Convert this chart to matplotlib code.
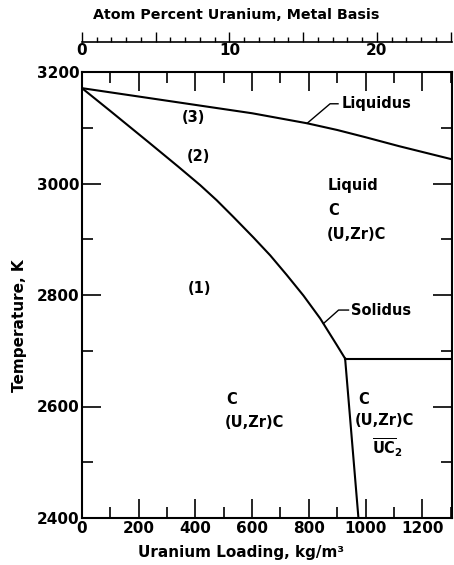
import matplotlib
matplotlib.use("Agg")
import matplotlib.pyplot as plt
from matplotlib.ticker import MultipleLocator, FuncFormatter

plt.rcParams["font.family"] = ["DejaVu Sans"]
plt.rcParams["font.weight"] = "bold"
plt.rcParams["mathtext.default"] = "bf"

# phase boundaries, uranium loading (kg/m3) vs temperature (K)
liquidus_kg = [0, 200, 413, 600, 794, 900, 1000, 1118, 1300]
liquidus_T = [3171, 3156, 3140, 3126, 3108, 3096, 3083, 3067, 3044]

solidus_kg = [0, 100, 235, 340, 417, 475, 534, 605, 664, 722, 781, 840,
              899, 928]
solidus_T = [3171, 3130, 3074, 3030, 2997, 2970, 2940, 2903, 2871, 2836,
             2799, 2758, 2710, 2686]

uc2_kg = [928, 975]
uc2_T = [2686, 2400]

eutectic_kg = [928, 1305]
eutectic_T = [2686, 2686]

x_ticks = [0, 200, 400, 600, 800, 1000, 1200]
y_ticks = [2400, 2600, 2800, 3000, 3200]

LW = 1.5
FS = 10.5

fig = plt.figure(figsize=(4.54, 5.65), dpi=100)
ax = fig.add_axes([82 / 454, 1 - 518 / 565, 370 / 454, 446 / 565])

ax.plot(liquidus_kg, liquidus_T, color="black", lw=LW)
ax.plot(solidus_kg, solidus_T, color="black", lw=LW)
ax.plot(uc2_kg, uc2_T, color="black", lw=LW)
ax.plot(eutectic_kg, eutectic_T, color="black", lw=LW)

ax.set_xlim(0, 1305)
ax.set_ylim(2400, 3200)
ax.set_xticks(x_ticks)
ax.set_yticks(y_ticks)
ax.xaxis.set_minor_locator(MultipleLocator(100))
ax.yaxis.set_minor_locator(MultipleLocator(100))
ax.tick_params(which="both", direction="in", top=True, right=True,
               width=1.2, labelsize=11, pad=2)
ax.tick_params(which="major", length=14)
ax.tick_params(which="minor", length=8)
for s in ax.spines.values():
    s.set_linewidth(LW)

fig.text(20 / 454, 1 - 326 / 565, "Temperature, K", rotation=90,
         ha="center", va="center", fontsize=11)
fig.text(241 / 454, 1 - 553 / 565, "Uranium Loading, kg/m³",
         ha="center", va="center", fontsize=11)

# leaders to the curve names
ax.plot([794, 875, 903], [3108, 3143, 3143], color="black", lw=1.0)
ax.text(915, 3143, "Liquidus", ha="left", va="center", fontsize=FS)
ax.plot([852, 905, 940], [2749, 2773, 2773], color="black", lw=1.0)
ax.text(948, 2773, "Solidus", ha="left", va="center", fontsize=FS)

# region labels
ax.text(392, 3119, "(3)", ha="center", va="center", fontsize=FS)
ax.text(410, 3048, "(2)", ha="center", va="center", fontsize=FS)
ax.text(413, 2811, "(1)", ha="center", va="center", fontsize=FS)

ax.text(868, 2996, "Liquid", ha="left", va="center", fontsize=FS)
ax.text(868, 2952, "C", ha="left", va="center", fontsize=FS)
ax.text(862, 2908, "(U,Zr)C", ha="left", va="center", fontsize=FS)

ax.text(510, 2612, "C", ha="left", va="center", fontsize=FS)
ax.text(503, 2572, "(U,Zr)C", ha="left", va="center", fontsize=FS)

ax.text(974, 2612, "C", ha="left", va="center", fontsize=FS)
ax.text(963, 2574, "(U,Zr)C", ha="left", va="center", fontsize=FS)
ax.text(1022, 2526, r"$\overline{\mathbf{UC}}_\mathbf{2}$", ha="left",
        va="center", fontsize=FS)

# secondary scale: atom percent uranium
top = fig.add_axes([82 / 454, 1 - 42 / 565, 370 / 454, 0.0001])
top.set_xlim(0, 25.1)
top.set_yticks([])
for side in ("top", "left", "right"):
    top.spines[side].set_visible(False)
top.spines["bottom"].set_linewidth(1.2)
top.xaxis.set_major_locator(MultipleLocator(5))
top.xaxis.set_minor_locator(MultipleLocator(1))
top.xaxis.set_major_formatter(
    FuncFormatter(lambda v, p: f"{v:.0f}" if round(v) % 10 == 0 else ""))
top.tick_params(which="both", direction="in", width=1.0, labelsize=11, pad=1)
top.tick_params(which="major", length=7)
top.tick_params(which="minor", length=3.5)
fig.text(236 / 454, 1 - 15 / 565, "Atom Percent Uranium, Metal Basis",
         ha="center", va="center", fontsize=10.3)

fig.savefig("out.png", dpi=100)
